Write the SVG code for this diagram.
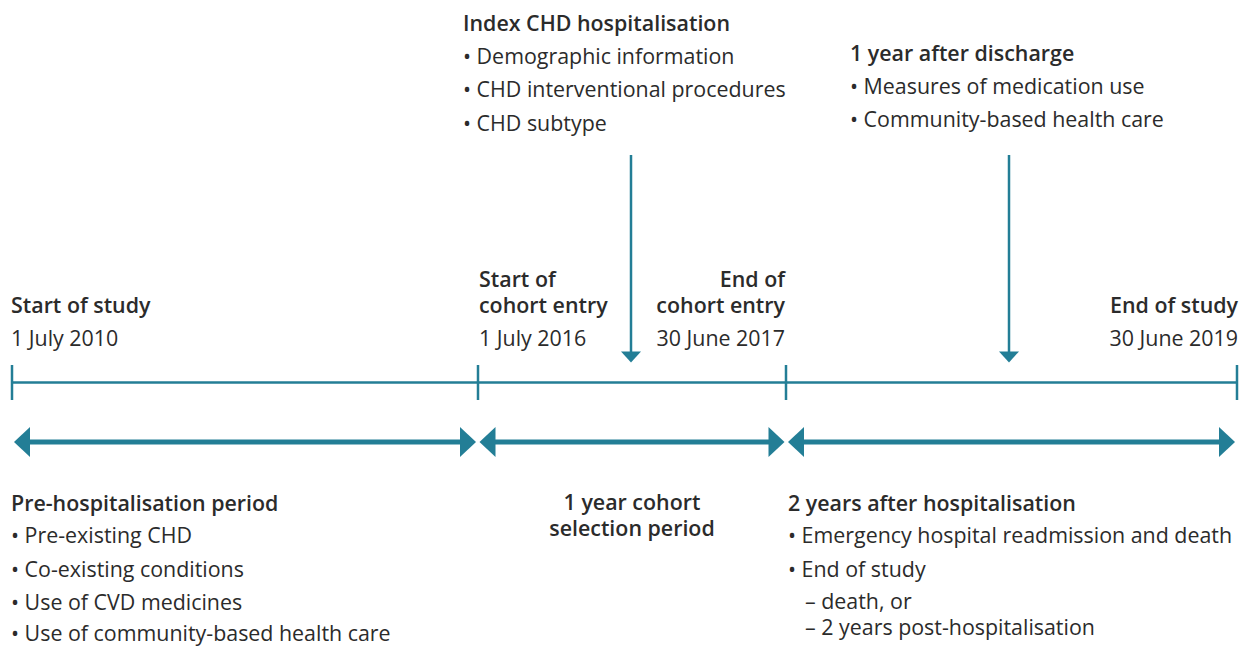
<svg xmlns="http://www.w3.org/2000/svg" width="1240" height="646" viewBox="0 0 1240 646">
<defs>
<style>
text{font-family:"Open Sans","Noto Sans","Liberation Sans",sans-serif;font-size:21.4px;fill:#2b2b2b}
.h{font-weight:600}
.end{text-anchor:end}
.mid{text-anchor:middle}
.tl{stroke:#237e96;stroke-width:2.5;fill:none}
.bar{stroke:#237e96;stroke-width:5;fill:none}
.head{fill:#237e96}
</style>
</defs>
<g id="connectors">
<line class="tl" x1="12" y1="382.5" x2="1237" y2="382.5"/>
<line class="tl" x1="12" y1="365" x2="12" y2="400"/>
<line class="tl" x1="478" y1="365" x2="478" y2="400"/>
<line class="tl" x1="786" y1="365" x2="786" y2="400"/>
<line class="tl" x1="1237" y1="365" x2="1237" y2="400"/>
<line class="bar" x1="28" y1="442" x2="462" y2="442"/>
<polygon class="head" points="14,442 30,427 30,457"/>
<polygon class="head" points="476,442 460,427 460,457"/>
<line class="bar" x1="494" y1="442" x2="770" y2="442"/>
<polygon class="head" points="479.5,442 495.5,427 495.5,457"/>
<polygon class="head" points="784.5,442 768.5,427 768.5,457"/>
<line class="bar" x1="802" y1="442" x2="1221" y2="442"/>
<polygon class="head" points="788,442 804,427 804,457"/>
<polygon class="head" points="1235,442 1219,427 1219,457"/>
<line class="tl" x1="631" y1="155" x2="631" y2="354"/>
<polygon class="head" points="621,351.5 641,351.5 631,362.5"/>
<line class="tl" x1="1009" y1="155" x2="1009" y2="354"/>
<polygon class="head" points="999,351.5 1019,351.5 1009,362.5"/>
</g>
<g id="index-hospitalisation">
<text class="h" x="463" y="31">Index CHD hospitalisation</text>
<text x="463" y="64">• Demographic information</text>
<text x="463" y="97">• CHD interventional procedures</text>
<text x="463" y="131">• CHD subtype</text>
</g>
<g id="one-year-after">
<text class="h" x="850" y="61">1 year after discharge</text>
<text x="850" y="94">• Measures of medication use</text>
<text x="850" y="127">• Community-based health care</text>
</g>
<g id="start-study">
<text class="h" x="11" y="313">Start of study</text>
<text x="11" y="346">1 July 2010</text>
</g>
<g id="start-cohort">
<text class="h" x="479" y="287">Start of</text>
<text class="h" x="479" y="313">cohort entry</text>
<text x="479" y="346">1 July 2016</text>
</g>
<g id="end-cohort">
<text class="h end" x="785" y="287">End of</text>
<text class="h end" x="785" y="313">cohort entry</text>
<text class="end" x="785" y="346">30 June 2017</text>
</g>
<g id="end-study">
<text class="h end" x="1238" y="313">End of study</text>
<text class="end" x="1238" y="346">30 June 2019</text>
</g>
<g id="pre-hospitalisation">
<text class="h" x="11" y="511">Pre-hospitalisation period</text>
<text x="11" y="543">• Pre-existing CHD</text>
<text x="11" y="577">• Co-existing conditions</text>
<text x="11" y="610">• Use of CVD medicines</text>
<text x="11" y="641">• Use of community-based health care</text>
</g>
<g id="selection-period">
<text class="h mid" x="632" y="510">1 year cohort</text>
<text class="h mid" x="632" y="536">selection period</text>
</g>
<g id="two-years-after">
<text class="h" x="788" y="511">2 years after hospitalisation</text>
<text x="788" y="543">• Emergency hospital readmission and death</text>
<text x="788" y="577">• End of study</text>
<text x="805" y="609">– death, or</text>
<text x="805" y="635">– 2 years post-hospitalisation</text>
</g>
</svg>
